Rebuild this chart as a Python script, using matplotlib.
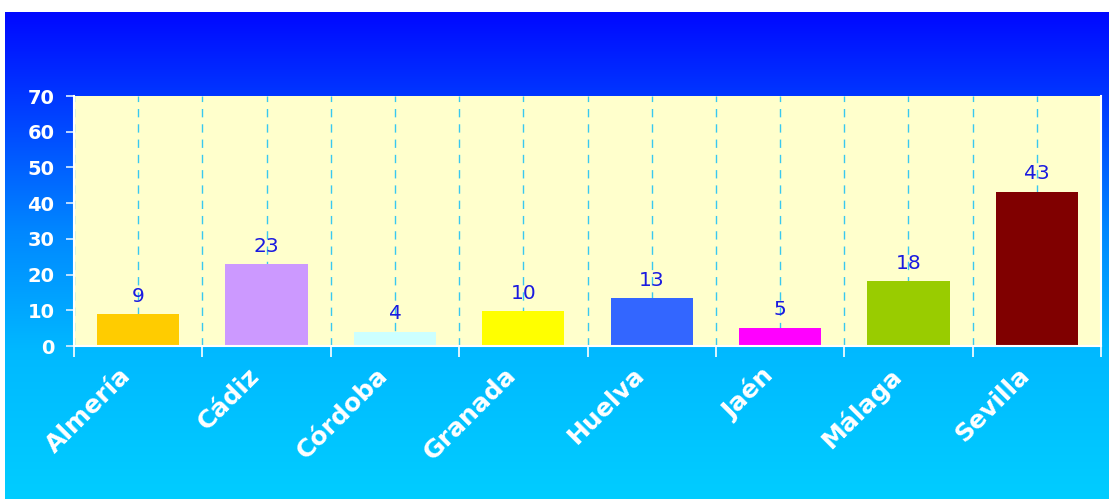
import numpy as np
import matplotlib.pyplot as plt
from matplotlib.transforms import ScaledTranslation, blended_transform_factory

provincias = ["Almería", "Cádiz", "Córdoba", "Granada", "Huelva", "Jaén", "Málaga", "Sevilla"]
valores = [9.0, 23.0, 4.0, 9.8, 13.4, 5.1, 18.2, 43.2]
colores = ["#FFCC00", "#CC99FF", "#CCFFFF", "#FFFF00", "#3366FF", "#FF00FF", "#99CC00", "#800000"]
y_ticks = [0, 10, 20, 30, 40, 50, 60, 70]

W, H = 1109, 499
fig = plt.figure(figsize=(W / 100, H / 100), dpi=100)
fig.patch.set_facecolor("white")

# background gradient panel (dark blue on top -> cyan at the bottom)
bg = fig.add_axes([5 / W, 0, 1 - 5 / W, 487 / H])
bg.set_axis_off()
t = np.linspace(0, 1, 300)
g = np.interp(t, [0.0, 0.2, 0.45, 0.7, 1.0], [8, 62, 135, 185, 205]) / 255
grad = np.zeros((300, 1, 3))
grad[:, 0, 1] = g
grad[:, 0, 2] = 1.0
bg.imshow(grad, aspect="auto", extent=[0, 1, 0, 1], origin="upper")

ax = fig.add_axes([74 / W, (H - 346) / H, (1101 - 74) / W, (346 - 96) / H])
ax.set_facecolor("#FFFFCC")

x = np.arange(len(provincias))
grid_color = "#38C8F0"
for xv in np.arange(-0.5, len(provincias) + 0.5, 0.5):
    ax.axvline(xv, color=grid_color, linestyle=(0, (6, 5)), linewidth=1.0, zorder=1)

bars = ax.bar(x, valores, width=0.64, color=colores, zorder=2)
for xi, v in zip(x, valores):
    ax.annotate(f"{v:.0f}", (xi, v), xytext=(0, 6), textcoords="offset points",
                ha="center", va="bottom", fontsize=14.5, color="#1A1AE0", zorder=3)

ax.set_xlim(-0.5, len(provincias) - 0.5)
ax.set_ylim(0, 70)
ax.set_yticks(y_ticks)
ax.set_xticks(np.arange(-0.5, len(provincias), 1.0))
ax.set_xticklabels([])
ax.tick_params(axis="x", length=8, color="white", width=1.2, direction="out")
ax.tick_params(axis="y", length=6, color="#DDEEFF", width=1.2, pad=8,
               labelsize=14, labelcolor="white")
for lab in ax.get_yticklabels():
    lab.set_fontweight("bold")

# rotated category labels under the axis
lab_tr = blended_transform_factory(ax.transData, ax.transAxes) + \
    ScaledTranslation(-0.19, -0.17, fig.dpi_scale_trans)
for xi, name in zip(x, provincias):
    ax.text(xi, 0, name, transform=lab_tr, rotation=45, rotation_mode="anchor",
            ha="right", va="top", fontsize=18, fontweight="bold", color="white")

for side in ["left", "bottom", "right"]:
    ax.spines[side].set_color("white")
    ax.spines[side].set_linewidth(1.5)
ax.spines["top"].set_visible(False)

fig.savefig("out.png", dpi=100)
